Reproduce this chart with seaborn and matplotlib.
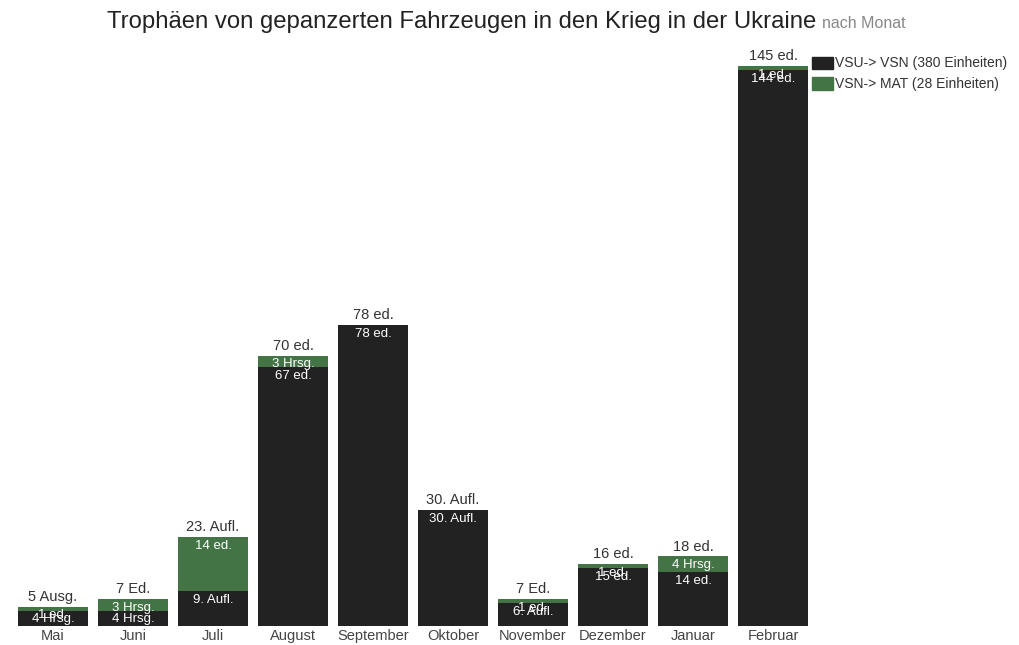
import pandas as pd
import seaborn as sns
import matplotlib.pyplot as plt
from matplotlib.patches import Patch

months = ['Mai', 'Juni', 'Juli', 'August', 'September', 'Oktober',
          'November', 'Dezember', 'Januar', 'Februar']
vsu_vsn = [4, 4, 9, 67, 78, 30, 6, 15, 14, 144]
vsn_mat = [1, 3, 14, 3, 0, 0, 1, 1, 4, 1]
vsu_labels = ['4 Hrsg.', '4 Hrsg.', '9. Aufl.', '67 ed.', '78 ed.', '30. Aufl.',
              '6. Aufl.', '15 ed.', '14 ed.', '144 ed.']
mat_labels = ['1 ed.', '3 Hrsg.', '14 ed.', '3 Hrsg.', '', '',
              '1 ed.', '1 ed.', '4 Hrsg.', '1 ed.']
total_labels = ['5 Ausg.', '7 Ed.', '23. Aufl.', '70 ed.', '78 ed.', '30. Aufl.',
                '7 Ed.', '16 ed.', '18 ed.', '145 ed.']
legend_labels = ['VSU-> VSN (380 Einheiten)', 'VSN-> MAT (28 Einheiten)']

df = pd.DataFrame({'month': months, 'vsu': vsu_vsn, 'mat': vsn_mat})
df['total'] = df['vsu'] + df['mat']

sns.set_style("white")
plt.rcParams['font.family'] = ['Liberation Sans', 'DejaVu Sans']

dark = '#222222'
green = '#437446'

fig = plt.figure(figsize=(10.2, 6.45), dpi=100)
ax = fig.add_axes([13 / 1020, 19 / 645, 800 / 1020, 560 / 645])

# green = total, black drawn over it -> stacked look
sns.barplot(data=df, x='month', y='total', color=green, width=0.875,
            saturation=1, linewidth=0, ax=ax)
sns.barplot(data=df, x='month', y='vsu', color=dark, width=0.875,
            saturation=1, linewidth=0, ax=ax)

ax.set_ylim(0, 145)
ax.set_xlim(-0.5, len(months) - 0.5)
ax.set_xlabel('')
ax.set_ylabel('')
ax.set_yticks([])
sns.despine(ax=ax, left=True, bottom=True)
ax.tick_params(axis='x', length=0, pad=2, labelsize=10.5, labelcolor='#444444')

for i in range(len(months)):
    ax.annotate(vsu_labels[i], (i, df['vsu'][i]), xytext=(0, -2),
                textcoords='offset points', ha='center', va='top',
                color='white', fontsize=9.5, annotation_clip=False)
    if mat_labels[i]:
        ax.annotate(mat_labels[i], (i, df['total'][i]), xytext=(0, -2),
                    textcoords='offset points', ha='center', va='top',
                    color='white', fontsize=9.5, annotation_clip=False)
    ax.annotate(total_labels[i], (i, df['total'][i]), xytext=(0, 2),
                textcoords='offset points', ha='center', va='bottom',
                color='#333333', fontsize=10.5, annotation_clip=False)

handles = [Patch(color=dark), Patch(color=green)]
fig.legend(handles, legend_labels, loc='upper left',
           bbox_to_anchor=(800 / 1020, 1 - 44 / 645), frameon=False,
           fontsize=10, handlelength=1.5, handleheight=1.0,
           handletextpad=0.1, labelspacing=0.5, labelcolor='#333333')

t = fig.text(107 / 1020, 1 - 22 / 645, 'Trophäen von gepanzerten Fahrzeugen in den Krieg in der Ukraine',
             fontsize=17.2, color='#222222', va='center', ha='left')
fig.canvas.draw()
bb = t.get_window_extent()
fig.text((bb.x1 + 6) / 1020, 1 - 24 / 645, 'nach Monat', fontsize=11.5,
         color='#888888', va='center', ha='left')

fig.savefig('out.png', dpi=100)
